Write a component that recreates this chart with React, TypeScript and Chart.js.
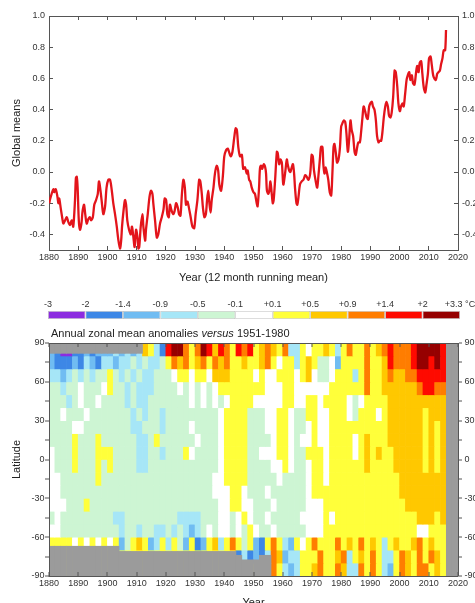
import React, { useEffect, useRef } from 'react';
import { Chart, registerables } from 'chart.js';

Chart.register(...registerables);

const FONT = '"Liberation Sans", Arial, Helvetica, sans-serif';
Chart.defaults.font.family = FONT;

// ---------- Top panel: global means (12 month running mean) ----------
const gmYears = [
  1880.1, 1880.3, 1880.9, 1881.5, 1881.8, 1882.3, 1882.9, 1883.2, 1883.5, 1884.0, 1884.5, 1884.9, 1885.5, 1886.1, 1886.6,
  1887.2, 1887.8, 1888.3, 1888.9, 1889.2, 1889.5, 1889.8, 1890.2, 1890.6, 1891.1, 1891.5, 1892.0, 1892.4, 1892.9, 1893.5,
  1894.0, 1894.4, 1895.0, 1895.5, 1896.1, 1896.7, 1897.1, 1897.5, 1898.0, 1898.6, 1899.2, 1899.7, 1900.3, 1900.9, 1901.5,
  1902.0, 1902.6, 1903.2, 1903.7, 1904.3, 1904.7, 1905.0, 1905.5, 1906.0, 1906.4, 1906.8, 1907.4, 1908.0, 1908.4, 1908.9,
  1909.3, 1909.8, 1910.3, 1910.6, 1910.9, 1911.4, 1912.0, 1912.3, 1912.9, 1913.2, 1913.8, 1914.4, 1914.9, 1915.4, 1915.7,
  1916.3, 1916.9, 1917.4, 1918.0, 1918.6, 1919.2, 1919.6, 1920.1, 1920.5, 1921.0, 1921.4, 1922.0, 1922.6, 1923.0, 1923.5,
  1924.1, 1924.5, 1925.0, 1925.5, 1926.0, 1926.5, 1926.9, 1927.4, 1927.9, 1928.5, 1929.1, 1929.7, 1930.2, 1930.8, 1931.4,
  1931.8, 1932.3, 1932.7, 1933.2, 1933.7, 1934.1, 1934.5, 1934.8, 1935.3, 1935.7, 1936.3, 1936.8, 1937.4, 1937.9, 1938.3,
  1938.9, 1939.5, 1940.0, 1940.6, 1941.2, 1941.6, 1942.2, 1942.8, 1943.4, 1943.9, 1944.3, 1944.8, 1945.4, 1946.0, 1946.5,
  1947.1, 1947.7, 1948.0, 1948.5, 1948.9, 1949.4, 1950.0, 1950.5, 1951.1, 1951.4, 1951.9, 1952.2, 1952.6, 1953.0, 1953.5,
  1954.0, 1954.3, 1954.6, 1955.1, 1955.4, 1955.8, 1956.2, 1956.6, 1956.9, 1957.4, 1958.0, 1958.3, 1958.8, 1959.2, 1959.7,
  1960.2, 1960.8, 1961.4, 1961.7, 1962.2, 1962.6, 1963.1, 1963.5, 1963.9, 1964.2, 1964.7, 1965.0, 1965.4, 1965.9, 1966.5,
  1967.1, 1967.7, 1968.2, 1968.8, 1969.4, 1969.9, 1970.3, 1970.7, 1971.3, 1971.8, 1972.2, 1972.8, 1973.1, 1973.6, 1973.9,
  1974.3, 1974.7, 1975.2, 1975.6, 1976.1, 1976.6, 1977.0, 1977.4, 1977.7, 1978.2, 1978.6, 1979.1, 1979.6, 1980.0, 1980.4,
  1980.9, 1981.4, 1981.8, 1982.3, 1982.7, 1983.2, 1983.6, 1984.1, 1984.6, 1985.0, 1985.5, 1985.9, 1986.4, 1986.8, 1987.3,
  1987.7, 1988.2, 1988.7, 1989.1, 1989.6, 1990.0, 1990.5, 1990.9, 1991.4, 1991.9, 1992.3, 1992.8, 1993.2, 1993.7, 1994.1,
  1994.6, 1995.1, 1995.5, 1996.0, 1996.4, 1996.9, 1997.3, 1997.8, 1998.3, 1998.7, 1999.2, 1999.6, 2000.1, 2000.5, 2001.0,
  2001.4, 2001.9, 2002.4, 2002.8, 2003.3, 2003.7, 2004.2, 2004.6, 2005.1, 2005.6, 2006.0, 2006.5, 2006.9, 2007.4, 2007.8,
  2008.3, 2008.8, 2009.2, 2009.7, 2010.1, 2010.6, 2011.0, 2011.5, 2011.9, 2012.4, 2012.9, 2013.3, 2013.8, 2014.2, 2014.7,
  2015.1, 2015.6, 2015.9,
];
const gmValues = [
  -0.2, -0.18, -0.14, -0.11, -0.13, -0.11, -0.16, -0.2, -0.17, -0.23, -0.29, -0.33, -0.31, -0.29, -0.32,
  -0.34, -0.31, -0.35, -0.18, -0.04, -0.03, -0.1, -0.31, -0.37, -0.33, -0.25, -0.21, -0.27, -0.33, -0.3,
  -0.29, -0.31, -0.29, -0.21, -0.18, -0.14, -0.06, -0.1, -0.18, -0.27, -0.22, -0.1, -0.05, -0.05, -0.12,
  -0.2, -0.27, -0.35, -0.43, -0.49, -0.44, -0.35, -0.25, -0.18, -0.21, -0.31, -0.37, -0.4, -0.35, -0.42,
  -0.48, -0.37, -0.42, -0.49, -0.48, -0.35, -0.27, -0.35, -0.44, -0.37, -0.27, -0.16, -0.12, -0.14, -0.2,
  -0.31, -0.42, -0.4, -0.33, -0.29, -0.24, -0.17, -0.18, -0.27, -0.29, -0.21, -0.25, -0.27, -0.25, -0.2,
  -0.23, -0.27, -0.28, -0.14, -0.05, -0.1, -0.21, -0.19, -0.23, -0.29, -0.35, -0.36, -0.27, -0.18, -0.05,
  -0.06, -0.14, -0.23, -0.29, -0.27, -0.18, -0.12, -0.18, -0.26, -0.18, -0.1, -0.01, 0.04, 0.01, -0.08,
  -0.12, -0.03, 0.1, 0.14, 0.15, 0.13, 0.1, 0.13, 0.22, 0.28, 0.27, 0.16, 0.1, 0.11, 0.02,
  0.03, -0.01, 0.01, -0.05, -0.06, -0.1, -0.13, -0.14, -0.2, -0.22, -0.1, 0.02, 0.04, 0.02, 0.05,
  0.03, -0.01, -0.12, -0.14, -0.12, -0.06, -0.13, -0.2, -0.18, -0.05, 0.13, 0.12, 0.05, 0.08, 0.06,
  -0.08, -0.01, 0.08, 0.05, 0.01, 0.0, 0.03, 0.05, -0.01, -0.1, -0.2, -0.21, -0.16, -0.08, -0.06,
  -0.05, -0.02, -0.03, -0.05, -0.01, 0.11, 0.1, 0.01, -0.06, -0.1, -0.03, 0.1, 0.16, 0.16, 0.05,
  -0.01, 0.03, -0.01, -0.05, -0.13, -0.15, -0.01, 0.16, 0.18, 0.12, 0.06, 0.08, 0.16, 0.29, 0.31,
  0.33, 0.32, 0.25, 0.13, 0.2, 0.33, 0.27, 0.23, 0.13, 0.11, 0.16, 0.19, 0.19, 0.25, 0.35,
  0.42, 0.39, 0.35, 0.34, 0.42, 0.44, 0.45, 0.42, 0.4, 0.33, 0.23, 0.19, 0.2, 0.2, 0.25,
  0.35, 0.42, 0.45, 0.42, 0.36, 0.35, 0.38, 0.48, 0.65, 0.64, 0.55, 0.44, 0.39, 0.42, 0.44,
  0.42, 0.5, 0.59, 0.62, 0.64, 0.59, 0.62, 0.57, 0.56, 0.63, 0.68, 0.64, 0.7, 0.71, 0.63,
  0.54, 0.51, 0.56, 0.63, 0.73, 0.74, 0.69, 0.62, 0.6, 0.59, 0.63, 0.64, 0.65, 0.69, 0.73,
  0.78, 0.78, 0.91,
];

const decadeTicks = [1880, 1890, 1900, 1910, 1920, 1930, 1940, 1950, 1960, 1970, 1980, 1990, 2000, 2010, 2020];
const globalTicks = [-0.4, -0.2, 0.0, 0.2, 0.4, 0.6, 0.8, 1.0];

// ---------- Colour scale ----------
const binLabels = ['-3', '-2', '-1.4', '-0.9', '-0.5', '-0.1', '+0.1', '+0.5', '+0.9', '+1.4', '+2', '+3.3 °C'];
const binColors = [
  '#8c2be0', '#3d87e6', '#70bcf2', '#a6e6f7', '#cdf5d3', '#ffffff',
  '#ffff3a', '#ffc800', '#ff7d00', '#fe0a00', '#960000',
];

// ---------- Bottom panel: zonal mean anomalies ----------
// column start years (2-year columns) and band tops (10-degree bands)
const columnYears = Array.from({ length: 68 }, (_, i) => 1880 + 2 * i);
const bandTops = [90, 80, 70, 60, 50, 40, 30, 20, 10, 0, -10, -20, -30, -40, -50, -60, -70, -80];
// colour-bin index (hex digit into binColors), groups of 10 columns = 20 years
const anomalyRows = [
  '2100112122 2323237631 9aa868a979 8698967876 8336566763 6866867898 889aaaa9',
  '2111213213 3233434334 6878678687 8667667865 6636764452 6666866798 889aa9a9',
  '3323434344 6434343344 4566566577 7666656556 6656754456 6636866787 78899999',
  '4434454445 6443433344 4454545456 6666666555 6655555566 6666866777 77789988',
  '4443454454 4443433444 4444545454 5666655555 6655665666 6545666677 77777777',
  '4454445444 4444343443 4444444445 6666444556 6544665566 6546665677 77776777',
  '4444554444 4444334443 4444544445 6666444556 6544565566 6666666677 77776767',
  '4444644464 4444433464 4444454445 6666444456 6545565566 6656766677 77776767',
  '5444644466 6444433443 4446544445 6666445556 6544666566 6656767667 77776767',
  '5444644464 6444433444 4444444445 6666444455 6544566566 6666766667 77776767',
  '5544444464 4444444444 4444444455 6666444445 4444566566 6666666666 77777777',
  '5544444444 4444444444 4444444455 5665444544 4444566666 6666666666 77777777',
  '5554446444 4444444444 4444444445 5665544454 4444555666 6666666666 67777777',
  '4544444444 4334444444 4433334445 5456544544 4445555656 6666666666 66677767',
  '5544444444 4434434433 4343234545 5454654454 4444555666 6666666666 66655666',
  '6666565656 5624676236 3642612673 6864621686 3265686668 6768676367 66786766',
  '6666666666 6666666666 6666666666 6613121387 2336668667 8367686336 87686876',
  '6666666666 6666666666 6666666666 6666666686 3236678668 7338686326 87688676',
];
// no-data regions: [fromYear, toYear, latLow, latHigh]
const noDataRegions = [
  [1880, 1912, 82, 90],
  [1880, 1904, -90, -67],
  [1904, 1944, -90, -71],
  [1944, 1946, -90, -74],
  [1946, 1952, -90, -77.5],
  [1952, 1956, -90, -74],
  [2016, 2020, -90, 90],
];
const latTicks = [-90, -75, -60, -45, -30, -15, 0, 15, 30, 45, 60, 75, 90];
const latLabelled = [-90, -60, -30, 0, 30, 60, 90];

const AXIS = '#555';
const TEXT = '#333';

function topConfig(): any {
  const tickFont = { family: FONT, size: 9 };
  const titleFont = { family: FONT, size: 11 };
  const yCommon = {
    type: 'linear',
    min: -0.5,
    max: 1.0,
    afterBuildTicks: (s: any) => { s.ticks = globalTicks.map((v) => ({ value: v })); },
    ticks: { font: tickFont, color: TEXT, padding: 8, callback: (v: any) => Number(v).toFixed(1) },
    grid: { drawOnChartArea: false, tickLength: -4, color: AXIS },
    border: { color: AXIS },
  };
  const xCommon = {
    type: 'linear',
    min: 1880,
    max: 2020,
    afterBuildTicks: (s: any) => { s.ticks = decadeTicks.map((v) => ({ value: v })); },
    grid: { drawOnChartArea: false, tickLength: -4, color: AXIS },
    border: { color: AXIS },
  };
  return {
    type: 'line',
    data: {
      datasets: [{
        data: gmYears.map((x, i) => ({ x, y: gmValues[i] })),
        borderColor: '#e3141b',
        borderWidth: 2.3,
        pointRadius: 0,
        tension: 0.3,
        fill: false,
      }],
    },
    options: {
      responsive: false,
      animation: false,
      devicePixelRatio: 1,
      events: [],
      layout: { padding: 0 },
      plugins: { legend: { display: false }, tooltip: { enabled: false } },
      scales: {
        x: {
          ...xCommon,
          position: 'bottom',
          ticks: { font: tickFont, color: TEXT, padding: 6.6, maxRotation: 0, autoSkip: false, callback: (v: any) => String(v) },
          title: { display: true, text: 'Year (12 month running mean)', font: titleFont, color: '#222', padding: { top: 0, bottom: 5.4 } },
          afterFit: (s: any) => { s.height = 40; },
        },
        x2: {
          ...xCommon,
          position: 'top',
          ticks: { display: false },
          afterFit: (s: any) => { s.height = 16; },
        },
        y: {
          ...yCommon,
          position: 'left',
          title: { display: true, text: 'Global means', font: titleFont, color: '#222', padding: { top: 10.4, bottom: 0 } },
          afterFit: (s: any) => { s.width = 49; },
        },
        y2: {
          ...yCommon,
          position: 'right',
          afterFit: (s: any) => { s.width = 17; },
        },
      },
    },
  };
}

function colorbarConfig(): any {
  return {
    type: 'bar',
    data: {
      labels: [''],
      datasets: binColors.map((c, i) => ({
        data: [[i, i + 1]],
        backgroundColor: c,
        borderColor: 'rgba(120,120,120,0.45)',
        borderWidth: 0.8,
        borderSkipped: false,
        inflateAmount: 0,
        grouped: false,
        barPercentage: 1,
        categoryPercentage: 1,
      })),
    },
    options: {
      indexAxis: 'y',
      responsive: false,
      animation: false,
      devicePixelRatio: 1,
      events: [],
      layout: { padding: { left: 48, right: 15, top: 0, bottom: 6 } },
      plugins: { legend: { display: false }, tooltip: { enabled: false } },
      scales: {
        x: {
          type: 'linear',
          position: 'top',
          min: 0,
          max: 11,
          afterBuildTicks: (s: any) => { s.ticks = binLabels.map((_, i) => ({ value: i })); },
          ticks: { font: { family: FONT, size: 9 }, color: TEXT, padding: 1, maxRotation: 0, autoSkip: false, callback: (v: any) => binLabels[v] },
          grid: { display: false, drawTicks: false },
          border: { display: false },
          afterFit: (s: any) => { s.height = 21; s.paddingLeft = 0; s.paddingRight = 0; },
        },
        y: { display: false },
      },
    },
  };
}

function heatmapConfig(): any {
  const tickFont = { family: FONT, size: 9 };
  const titleFont = { family: FONT, size: 11 };
  const cellDatasets = anomalyRows.map((row, r) => {
    const codes = row.replace(/ /g, '').split('');
    return {
      data: codes.map((_, i) => ({ x: columnYears[i] + 1, y: [bandTops[r] - 10, bandTops[r]] })),
      backgroundColor: codes.map((c) => binColors[parseInt(c, 16)]),
      borderWidth: 0,
      grouped: false,
      barPercentage: 1,
      categoryPercentage: 1,
      order: 1,
    };
  });
  const gapPoints: any[] = [];
  noDataRegions.forEach(([y0, y1, lo, hi]) => {
    for (let yr = y0; yr < y1; yr += 2) gapPoints.push({ x: yr + 1, y: [lo, hi] });
  });
  const gapDataset = {
    data: gapPoints,
    backgroundColor: '#9b9b9b',
    borderWidth: 0,
    grouped: false,
    barPercentage: 1,
    categoryPercentage: 1,
    order: 0,
  };
  const xCommon = {
    type: 'linear',
    min: 1880,
    max: 2020,
    offset: false,
    afterBuildTicks: (s: any) => { s.ticks = decadeTicks.map((v) => ({ value: v })); },
    grid: { offset: false, drawOnChartArea: false, tickLength: -4, color: AXIS, lineWidth: 0, tickWidth: 1, z: 1 },
    border: { color: AXIS, z: 1 },
  };
  const yCommon = {
    type: 'linear',
    min: -90,
    max: 90,
    afterBuildTicks: (s: any) => { s.ticks = latTicks.map((v) => ({ value: v })); },
    grid: { drawOnChartArea: false, tickLength: 4, color: AXIS, lineWidth: 0, tickWidth: 1, z: 1 },
    border: { color: AXIS, z: 1 },
  };
  return {
    type: 'bar',
    data: { datasets: [gapDataset, ...cellDatasets] },
    options: {
      responsive: false,
      animation: false,
      devicePixelRatio: 1,
      events: [],
      layout: { padding: 0 },
      plugins: { legend: { display: false }, tooltip: { enabled: false } },
      scales: {
        x: {
          ...xCommon,
          position: 'bottom',
          ticks: { font: tickFont, color: TEXT, padding: 6.6, maxRotation: 0, autoSkip: false, callback: (v: any) => String(v) },
          title: { display: true, text: 'Year', font: titleFont, color: '#222', padding: { top: 0, bottom: 5.4 } },
          afterFit: (s: any) => { s.height = 39; },
        },
        x2: {
          ...xCommon,
          position: 'top',
          ticks: { display: false },
          afterFit: (s: any) => { s.height = 18; },
        },
        y: {
          ...yCommon,
          position: 'left',
          ticks: { font: tickFont, color: TEXT, padding: 0.5, autoSkip: false, callback: (v: any) => (latLabelled.includes(v) ? String(v) : '') },
          title: { display: true, text: 'Latitude', font: titleFont, color: '#222', padding: { top: 10.4, bottom: 0 } },
          afterFit: (s: any) => { s.width = 49; },
        },
        y2: {
          ...yCommon,
          position: 'right',
          ticks: { font: tickFont, color: TEXT, padding: 2.5, autoSkip: false, callback: (v: any) => (latLabelled.includes(v) ? String(v) : '') },
          afterFit: (s: any) => { s.width = 17; },
        },
      },
    },
  };
}

function ChartCanvas({ make, top, height }: { make: () => any; top: number; height: number }) {
  const ref = useRef<HTMLCanvasElement>(null);
  useEffect(() => {
    const chart = new Chart(ref.current as HTMLCanvasElement, make());
    return () => chart.destroy();
  }, []);
  return (
    <canvas
      ref={ref}
      width={475}
      height={height}
      style={{ position: 'absolute', left: 0, top, width: 475, height, display: 'block' }}
    />
  );
}

export default function App() {
  return (
    <div style={{ position: 'absolute', left: 0, top: 0, width: 475, height: 603, overflow: 'hidden', background: '#fff' }}>
      <ChartCanvas make={topConfig} top={0} height={290} />
      <ChartCanvas make={colorbarConfig} top={290} height={35} />
      <ChartCanvas make={heatmapConfig} top={325} height={290} />
      <div
        style={{
          position: 'absolute',
          left: 51,
          top: 327,
          fontFamily: FONT,
          fontSize: 11,
          lineHeight: '13px',
          color: '#222',
          whiteSpace: 'nowrap',
        }}
      >
        Annual zonal mean anomalies <i>versus</i> 1951-1980
      </div>
    </div>
  );
}
